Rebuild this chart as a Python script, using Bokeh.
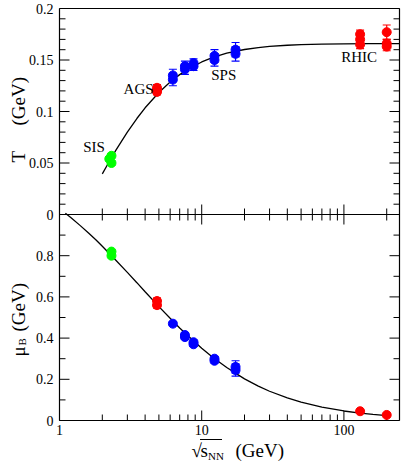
import math
from bokeh.plotting import figure
from bokeh.models import ColumnDataSource, Range1d, Whisker, TeeHead
from bokeh.embed import file_html
from bokeh.resources import INLINE
from bokeh.core.properties import value

# ---------------- data ----------------
# Temperature panel
sis_x_T = [2.24, 2.32, 2.32]
sis_T = [0.054, 0.057, 0.050]
sis_T_err = [0.002, 0.002, 0.002]
ags_x_T = [4.85, 4.85, 4.85]
ags_T = [0.119, 0.121, 0.123]
ags_T_err = [0.003, 0.003, 0.003]
sps_x_T = [6.27, 6.27, 7.62, 7.62, 8.76, 8.76, 12.3, 12.3, 17.3, 17.3]
sps_T = [0.131, 0.135, 0.141, 0.144, 0.144, 0.147, 0.150, 0.154, 0.156, 0.160]
sps_T_err = [0.006, 0.006, 0.005, 0.005, 0.004, 0.004, 0.006, 0.006, 0.007, 0.007]
rhic_x_T = [130, 130, 130, 200, 200, 200]
rhic_T = [0.165, 0.170, 0.175, 0.163, 0.166, 0.177]
rhic_T_err = [0.004, 0.004, 0.004, 0.004, 0.004, 0.007]

# Baryon chemical potential panel
sis_x_mu = [2.32, 2.32]
sis_mu = [0.80, 0.82]
sis_mu_err = [0.01, 0.01]
ags_x_mu = [4.85, 4.85]
ags_mu = [0.56, 0.58]
ags_mu_err = [0.015, 0.015]
sps_x_mu = [6.27, 7.62, 7.62, 8.76, 8.76, 12.3, 12.3, 17.3, 17.3]
sps_mu = [0.47, 0.405, 0.415, 0.37, 0.38, 0.29, 0.30, 0.245, 0.26]
sps_mu_err = [0.01, 0.01, 0.01, 0.01, 0.01, 0.01, 0.01, 0.03, 0.03]
rhic_x_mu = [130, 200]
rhic_mu = [0.045, 0.027]
rhic_mu_err = [0.005, 0.004]

# Fit curves
curve_T_x = [2.0, 2.25, 2.5, 3, 3.5, 4, 5, 6, 7, 8, 10, 12, 15, 20, 25, 30, 40, 50, 70, 100, 150, 246]
curve_T = [0.0394, 0.0519, 0.0628, 0.0800, 0.0932, 0.1036, 0.1185, 0.1286, 0.1358, 0.1410,
           0.1481, 0.1525, 0.1566, 0.1602, 0.1621, 0.1632, 0.1643, 0.1649, 0.1654, 0.1657,
           0.1659, 0.1659]
curve_mu_x = [1.1, 1.2, 1.4, 1.6, 1.8, 2.0, 2.5, 3, 3.5, 4, 5, 6, 7, 8, 10, 12, 15, 20, 25, 30,
              40, 50, 70, 100, 130, 160, 210]
curve_mu = [1.006, 0.985, 0.946, 0.910, 0.877, 0.846, 0.777, 0.719, 0.669, 0.625, 0.553, 0.496,
            0.449, 0.411, 0.351, 0.306, 0.257, 0.202, 0.167, 0.142, 0.110, 0.0893, 0.0650,
            0.0462, 0.0358, 0.0293, 0.0224]

# Region labels (top panel)
region_names = ["SIS", "AGS", "SPS", "RHIC"]
region_x = [1.75, 3.6, 14.3, 128]
region_T = [0.0657, 0.1218, 0.1356, 0.153]

# Axes ticks
x_major = [1, 10, 100]
x_labels = ["1", "10", "100"]
x_minor = [2, 3, 4, 5, 6, 7, 8, 9, 20, 30, 40, 50, 60, 70, 80, 90, 200]
T_major = [0, 0.05, 0.1, 0.15, 0.2]
T_labels = ["0", "0.05", "0.1", "0.15", "0.2"]
T_minor = [0.01, 0.02, 0.03, 0.04, 0.06, 0.07, 0.08, 0.09, 0.11, 0.12, 0.13, 0.14,
           0.16, 0.17, 0.18, 0.19]
mu_major = [0, 0.2, 0.4, 0.6, 0.8]
mu_labels = ["0", "0.2", "0.4", "0.6", "0.8"]
mu_minor = [0.1, 0.3, 0.5, 0.7, 0.9]

# ---------------- style / layout constants ----------------
FONT = "Liberation Serif"
GREEN, RED, BLUE = "#00ff00", "#ff0000", "#0000ff"
BLACK = "black"
T_MAX = 0.2          # top panel: T in [0, T_MAX]; bottom panel: mu_B in [0, 1]
X_START, X_END = 1, 246
W, H = 401, 462
BOX_L, BOX_R, BOX_T, BOX_B = 59, 399, 8, 420      # plot box in canvas pixels
MAJ_LEN, MIN_LEN = 10, 6

# Scales: one canvas-wide frame; the plot box is placed by extending the ranges
decade_px = (BOX_R - BOX_L) / math.log10(X_END / X_START)
x_lo = X_START * 10 ** (-BOX_L / decade_px)
x_hi = X_START * 10 ** ((W - BOX_L) / decade_px)
unit_px = (BOX_B - BOX_T) / 2.0          # main y: bottom panel 0..1, top panel 1..2
y_lo = -(H - BOX_B) / unit_px
y_hi = 2.0 + BOX_T / unit_px

p = figure(width=W, height=H, output_backend="svg", toolbar_location=None,
           title_location=None, x_axis_type="log",
           x_axis_location=None, y_axis_location=None,
           x_range=Range1d(x_lo, x_hi), y_range=Range1d(y_lo, y_hi),
           min_border=0, min_border_left=0, min_border_right=0,
           min_border_top=0, min_border_bottom=0)
p.extra_y_ranges = {"T": Range1d((y_lo - 1) * T_MAX, (y_hi - 1) * T_MAX),
                    "py": Range1d(H, 0)}      # canvas pixels, top-down (titles only)
p.outline_line_color = None
p.background_fill_color = "white"
p.border_fill_color = "white"
p.grid.visible = False


def to_main(t):
    return 1.0 + t / T_MAX


left_ticks = mu_major + [to_main(t) for t in T_major]
left_tick_labels = mu_labels + T_labels
left_minor = mu_minor + [1.0] + [to_main(t) for t in T_minor]

# ---- plot box and panel divider ----
p.segment(x0=[X_START, X_END, X_START, X_START, X_START],
          x1=[X_START, X_END, X_END, X_END, X_END],
          y0=[0, 0, 0, 1, 2], y1=[2, 2, 0, 1, 2], line_color=BLACK, line_width=1.2)


# ---- ticks (all pointing into the panels) ----
def ticks(xs, ys, length, angle):
    p.ray(x=xs, y=ys, length=length, length_units="screen", angle=angle,
          line_color=BLACK, line_width=1)


ticks([X_START] * len(left_ticks), left_ticks, MAJ_LEN, 0)
ticks([X_START] * len(left_minor), left_minor, MIN_LEN, 0)
ticks([X_END] * len(left_ticks), left_ticks, MAJ_LEN, math.pi)
ticks([X_END] * len(left_minor), left_minor, MIN_LEN, math.pi)
for yb, ang in [(0, math.pi / 2), (1, math.pi / 2), (1, -math.pi / 2)]:
    ticks(x_major, [yb] * len(x_major), MAJ_LEN, ang)
    ticks(x_minor, [yb] * len(x_minor), MIN_LEN, ang)

# ---- tick labels ----
p.text(x=[X_START] * len(left_ticks), y=left_ticks, text=left_tick_labels,
       x_offset=-6, text_font=value(FONT), text_font_size="14px", text_color=BLACK,
       text_align="right", text_baseline="middle")
p.text(x=x_major, y=[0] * len(x_major), text=x_labels, y_offset=4,
       text_font=value(FONT), text_font_size="14px", text_color=BLACK,
       text_align="center", text_baseline="top")

# ---- curves ----
p.line(curve_T_x, curve_T, y_range_name="T", line_color=BLACK, line_width=1.3)
p.line(curve_mu_x, curve_mu, line_color=BLACK, line_width=1.3)


def points(xs, ys, errs, color, range_name="default"):
    src = ColumnDataSource(dict(x=xs, y=ys,
                                upper=[y + e for y, e in zip(ys, errs)],
                                lower=[y - e for y, e in zip(ys, errs)]))
    w = Whisker(source=src, base="x", upper="upper", lower="lower", dimension="height",
                line_color=color, line_width=1.2,
                upper_head=TeeHead(size=8, line_color=color, line_width=1.2),
                lower_head=TeeHead(size=8, line_color=color, line_width=1.2))
    w.y_range_name = range_name
    p.add_layout(w)
    p.scatter("x", "y", source=src, y_range_name=range_name, size=9,
              fill_color=color, line_color=color)


points(sis_x_T, sis_T, sis_T_err, GREEN, "T")
points(ags_x_T, ags_T, ags_T_err, RED, "T")
points(sps_x_T, sps_T, sps_T_err, BLUE, "T")
points(rhic_x_T, rhic_T, rhic_T_err, RED, "T")

points(sis_x_mu, sis_mu, sis_mu_err, GREEN)
points(ags_x_mu, ags_mu, ags_mu_err, RED)
points(sps_x_mu, sps_mu, sps_mu_err, BLUE)
points(rhic_x_mu, rhic_mu, rhic_mu_err, RED)

p.text(x=region_x, y=region_T, text=region_names, y_range_name="T",
       text_font=value(FONT), text_font_size="15px", text_color=BLACK,
       text_align="center", text_baseline="middle")


# ---- axis titles (placed in canvas pixels relative to the box's left edge) ----
def put(px, py, text, size, angle=0.0):
    p.text(x=[X_START], y=[py], text=[text], x_offset=px - BOX_L, y_range_name="py",
           angle=angle, text_font=value(FONT), text_font_size=size, text_color=BLACK,
           text_align="left", text_baseline="alphabetic")


half = math.pi / 2
put(18, 162, "T", "19px", half)
put(18, 125, "(GeV)", "19px", half)
put(18, 356, "\u03bc", "19px", half)
put(21.5, 345, "B", "11px", half)
put(18, 331, "(GeV)", "19px", half)

put(191, 450, "\u221a", "19px")
put(200, 450, "s", "19px")
put(207.5, 455, "NN", "11px")
put(235, 450, "(GeV)", "19px")
# overline above s_NN: short screen-length stroke starting where the radical ends
ov_x = x_lo * 10 ** (199.5 / decade_px)
p.ray(x=[ov_x], y=[439], length=22, length_units="screen", angle=0,
      y_range_name="py", line_color=BLACK, line_width=1)

open("out.html", "w").write(file_html(p, INLINE))
